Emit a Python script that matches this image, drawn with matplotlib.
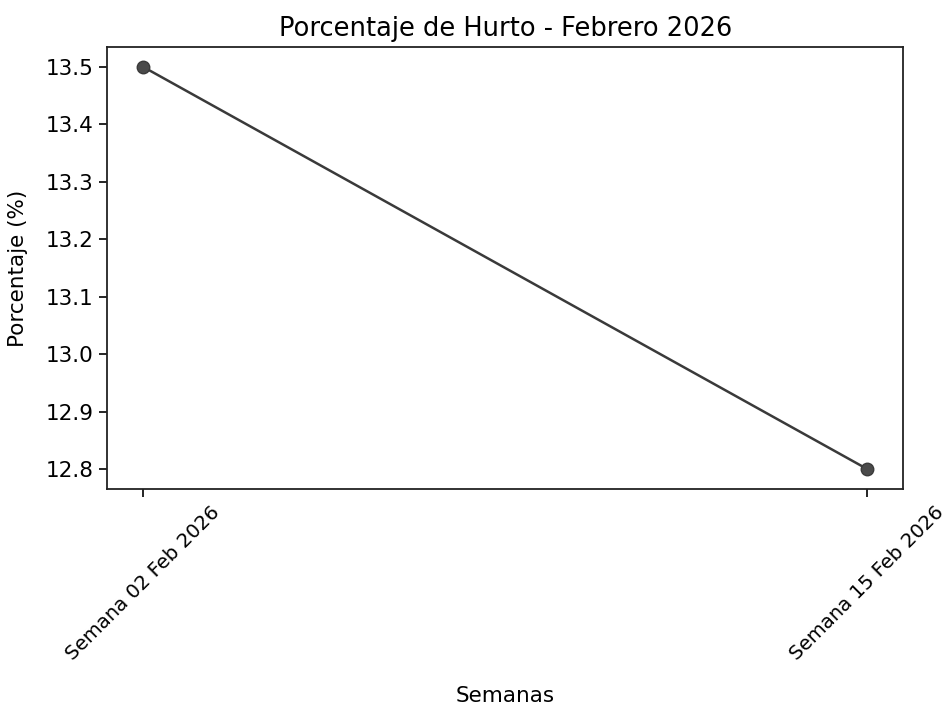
import matplotlib
matplotlib.use('Agg')
import matplotlib.pyplot as plt

semanas = ['Semana 02 Feb 2026', 'Semana 15 Feb 2026']
porcentaje = [13.5, 12.8]

fig = plt.figure(figsize=(9.48, 7.1), dpi=100)
ax = fig.add_axes([0.113, 0.311, 0.840, 0.623])
ax.plot(semanas, porcentaje, marker='o', color='#3a3a3a', linewidth=1.8,
        markersize=9, markerfacecolor='#4a4a4a', markeredgecolor='#3a3a3a')

ax.set_title('Porcentaje de Hurto - Febrero 2026', fontsize=18.5, pad=8)
ax.set_xlabel('Semanas', fontsize=15.5, labelpad=16)
ax.set_ylabel('Porcentaje (%)', fontsize=15.5)
ax.yaxis.set_label_coords(-0.099, 0.5)
ax.set_yticks([12.8, 12.9, 13.0, 13.1, 13.2, 13.3, 13.4, 13.5])
ax.tick_params(axis='y', labelsize=15.5, length=6, width=1.2)
ax.tick_params(axis='x', labelsize=14.2, length=6, width=1.2)
plt.setp(ax.get_xticklabels(), rotation=45)
for s in ax.spines.values():
    s.set_linewidth(1.3)
    s.set_color('#222222')

fig.savefig('out.png', dpi=100)
